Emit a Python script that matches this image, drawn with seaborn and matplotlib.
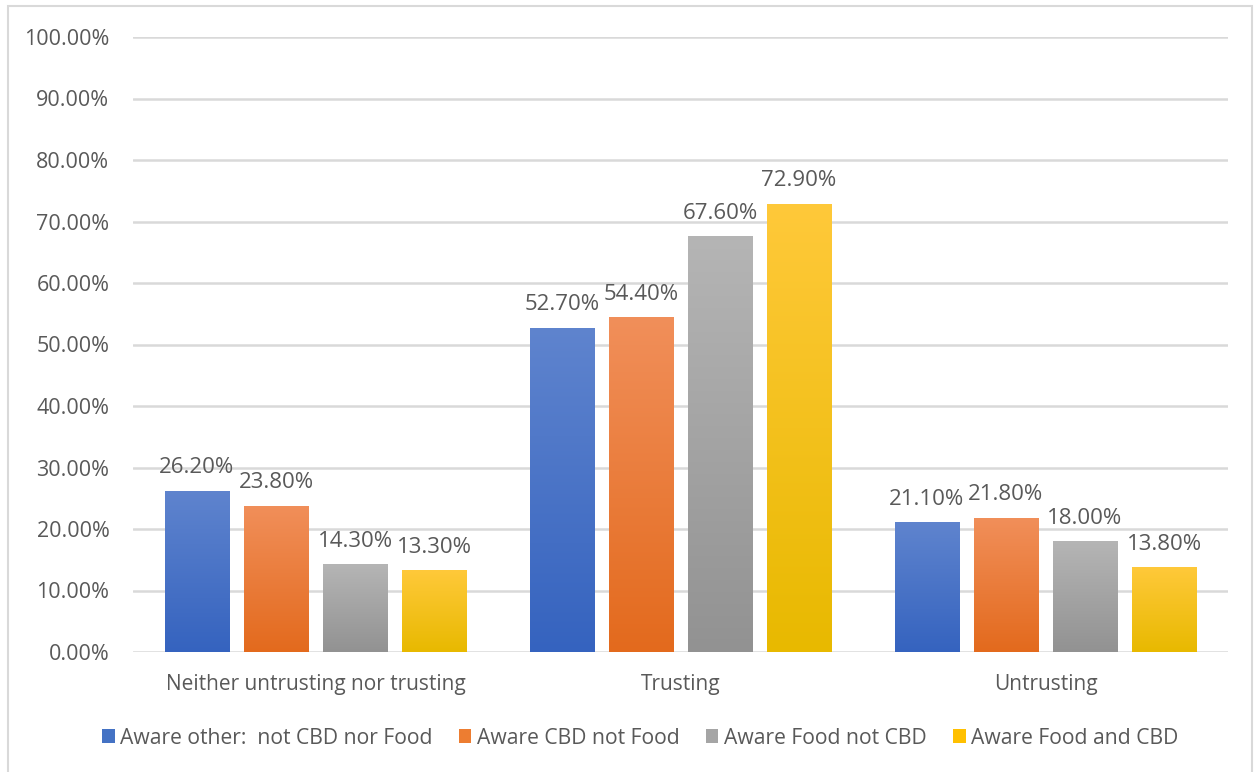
import numpy as np
import pandas as pd
import matplotlib
matplotlib.use("Agg")
import matplotlib.pyplot as plt
import seaborn as sns
from matplotlib.colors import LinearSegmentedColormap
from matplotlib.patches import Patch, Rectangle
from matplotlib.ticker import FuncFormatter, MultipleLocator

# Survey results: share of respondents (%) by trust level and awareness group
categories = ["Neither untrusting nor trusting", "Trusting", "Untrusting"]
groups = ["Aware other:  not CBD nor Food", "Aware CBD not Food",
          "Aware Food not CBD", "Aware Food and CBD"]
aware_other = [26.2, 52.7, 21.1]
aware_cbd_not_food = [23.8, 54.4, 21.8]
aware_food_not_cbd = [14.3, 67.6, 18.0]
aware_food_and_cbd = [13.3, 72.9, 13.8]

series = [aware_other, aware_cbd_not_food, aware_food_not_cbd, aware_food_and_cbd]

# gradient colours for each series (top, bottom) and solid legend colour
top_colors = ["#5F84CE", "#F18F5A", "#B5B5B5", "#FFC93A"]
bottom_colors = ["#3563BF", "#E36A1D", "#929292", "#E8B900"]
solid_colors = ["#4472C4", "#ED7D31", "#A5A5A5", "#FFC000"]

df = pd.DataFrame({
    "category": np.tile(categories, len(groups)),
    "group": np.repeat(groups, len(categories)),
    "value": np.concatenate(series),
})

sns.set_theme(style="white")
plt.rcParams["font.family"] = ["Open Sans", "DejaVu Sans"]
text_color = "#595959"

fig = plt.figure(figsize=(12.57, 7.72), dpi=100)
ax = fig.add_axes([133 / 1257, 120 / 772, (1228 - 133) / 1257, (735 - 120) / 772])

sns.barplot(data=df, x="category", y="value", hue="group",
            order=categories, hue_order=groups, palette=solid_colors,
            saturation=1, width=0.866, gap=0.18, legend=False, ax=ax,
            zorder=3)

ax.set_xlim(-0.5, 2.5)
ax.set_ylim(0, 100)

# vertical gradient fill for each bar
for i, container in enumerate(ax.containers):
    cmap = LinearSegmentedColormap.from_list(f"g{i}", [bottom_colors[i], top_colors[i]])
    grad = np.linspace(0, 1, 256).reshape(-1, 1)
    for patch in container.patches:
        x0, y0 = patch.get_x(), patch.get_y()
        w, h = patch.get_width(), patch.get_height()
        patch.set_edgecolor("none")
        im = ax.imshow(grad, cmap=cmap, origin="lower", aspect="auto",
                       extent=[x0, x0 + w, y0, y0 + h], zorder=4,
                       interpolation="bicubic")
        im.set_clip_path(patch)
    ax.bar_label(container, labels=[f"{v:.2f}%" for v in series[i]],
                 padding=9, fontsize=16, color=text_color, zorder=5)

ax.set_xlim(-0.5, 2.5)
ax.set_ylim(0, 100)

ax.yaxis.set_major_locator(MultipleLocator(10))
ax.yaxis.set_major_formatter(FuncFormatter(lambda y, _: f"{y:.2f}%"))
ax.grid(axis="y", color="#D9D9D9", linewidth=1.8, zorder=0)
ax.set_axisbelow(True)
for s in ax.spines.values():
    s.set_visible(False)
ax.tick_params(axis="both", length=0, labelcolor=text_color)
ax.tick_params(axis="y", pad=17, labelsize=15.5)
ax.tick_params(axis="x", pad=16, labelsize=15)
ax.set_xlabel("")
ax.set_ylabel("")

handles = [Patch(facecolor=c, edgecolor="none") for c in solid_colors]
fig.legend(handles, groups, loc="center", bbox_to_anchor=(640 / 1257, 1 - 738 / 772),
           ncol=4, frameon=False, fontsize=15.2, labelcolor=text_color,
           handlelength=0.6, handleheight=0.6, handletextpad=0.25,
           columnspacing=1.25)

# chart frame
fig.add_artist(Rectangle((8 / 1257, -0.05), (1252 - 8) / 1257, 1.05 - 6 / 772,
                         transform=fig.transFigure, fill=False,
                         edgecolor="#D9D9D9", linewidth=1.5))

fig.savefig("out.png", dpi=100)
